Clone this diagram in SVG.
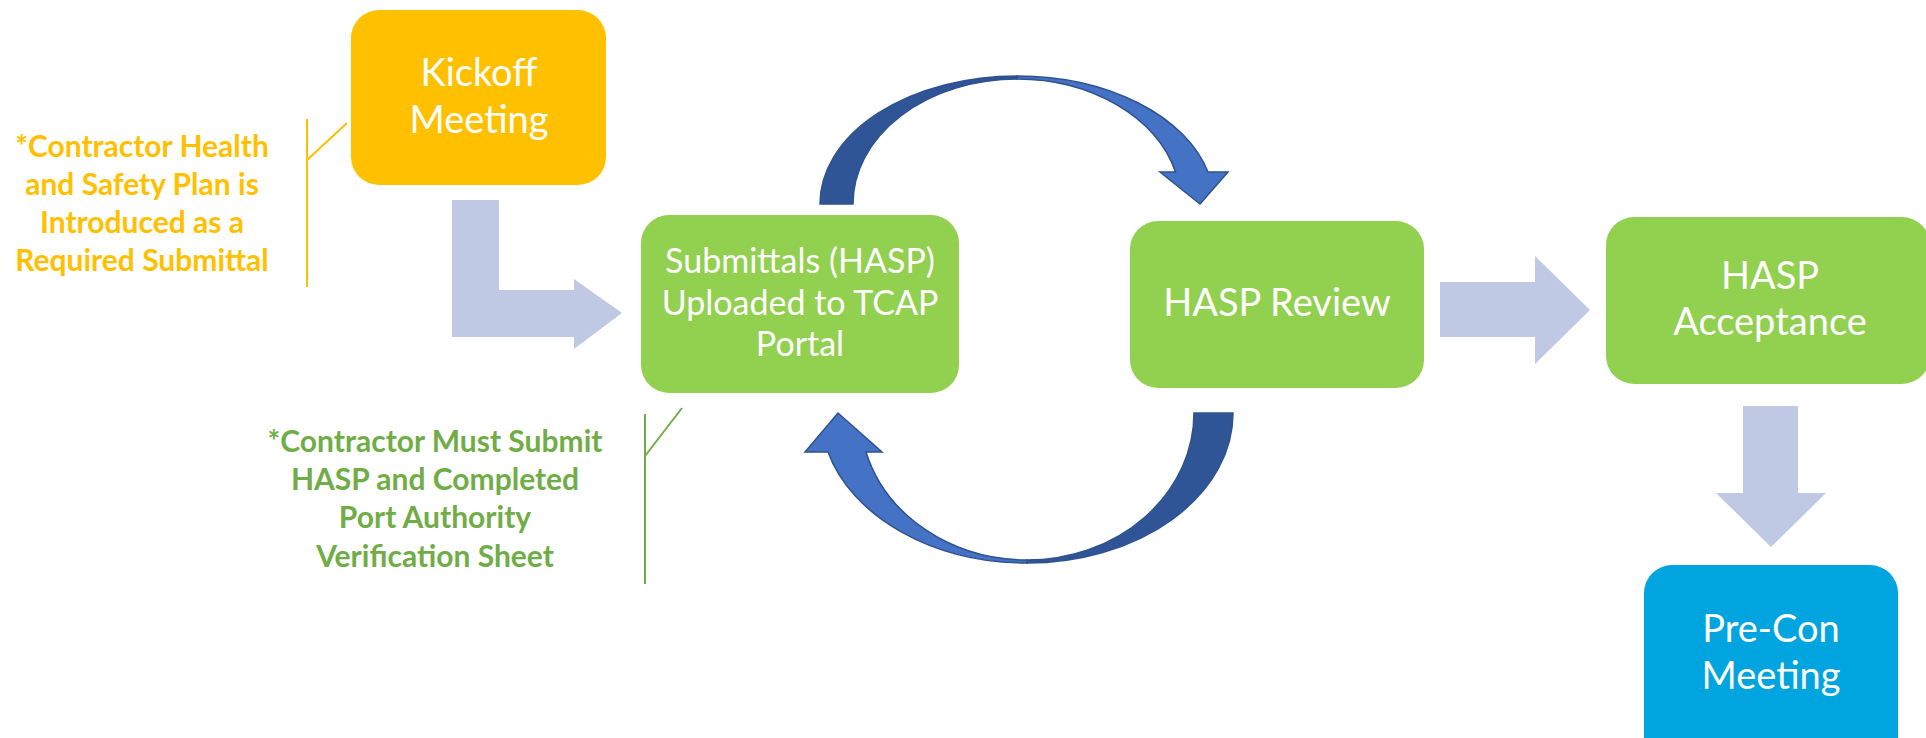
<svg xmlns="http://www.w3.org/2000/svg" width="1926" height="738" viewBox="0 0 1926 738">
<style>
.box-text{font-family:Lato,"Liberation Sans",sans-serif;fill:#ffffff;text-anchor:middle}
.note{font-family:Lato,"Liberation Sans",sans-serif;font-weight:bold;text-anchor:middle;font-size:30px}
.flat{fill:#BFC9E3}
.dark{fill:#2F5597;stroke:#2F528F;stroke-width:1.5}
.light{fill:#4472C4;stroke:#2F528F;stroke-width:1.5}
</style>
<rect width="1926" height="738" fill="#ffffff"/>
<g id="connectors">
  <path class="flat" d="M452,200 H499 V290 H574 V279 L622,313 L574,349 V337 H452 Z"/>
  <path class="flat" d="M1440,282 H1535 V256 L1590,310 L1535,364 V337 H1440 Z"/>
  <path class="flat" d="M1743,406 H1798 V493 H1826 L1771,547 L1716,493 H1743 Z"/>
  <g id="loop-top">
    <path class="dark" d="M820,204 A197,128 0 0 1 1017,76 L1017,79 A164,125 0 0 0 853,204 Z"/>
    <path class="light" d="M1017,76 A197,128 0 0 1 1208,172 L1228,172 L1200,204 L1160,172 L1175.5,172 A164,125 0 0 0 1017,79 Z"/>
  </g>
  <g id="loop-bottom">
    <path class="dark" d="M1233,413 A206,150 0 0 1 1027,563 L1027,560 A167,147 0 0 0 1194,413 Z"/>
    <path class="light" d="M1027,563 A206,150 0 0 1 828,452 L805,452 L838,413 L882,452 L866,452 A167,147 0 0 0 1027,560 Z"/>
  </g>
</g>
<g id="kickoff">
  <rect x="351" y="10" width="255" height="175" rx="28" fill="#FFC000"/>
  <text class="box-text" font-size="38" x="479" y="86">Kickoff</text>
  <text class="box-text" font-size="38" x="479" y="133">Meeting</text>
</g>
<g id="note-kickoff">
  <path d="M307,119 V287 M307,160 L347,123" stroke="#FFC000" stroke-width="2" fill="none"/>
  <text class="note" fill="#FFC000"><tspan x="142" y="157">*Contractor Health</tspan><tspan x="142" y="195">and Safety Plan is</tspan><tspan x="142" y="233">Introduced as a</tspan><tspan x="142" y="271">Required Submittal</tspan></text>
</g>
<g id="submittals">
  <rect x="641" y="215" width="318" height="178" rx="28" fill="#92D050"/>
  <text class="box-text" font-size="34" x="800" y="273">Submittals (HASP)</text>
  <text class="box-text" font-size="34" x="800" y="315">Uploaded to TCAP</text>
  <text class="box-text" font-size="34" x="800" y="356">Portal</text>
</g>
<g id="note-submittals">
  <path d="M645,414 V584 M645,456 L682,408" stroke="#70AD47" stroke-width="2" fill="none"/>
  <text class="note" fill="#70AD47"><tspan x="435" y="452">*Contractor Must Submit</tspan><tspan x="435" y="490">HASP and Completed</tspan><tspan x="435" y="528">Port Authority</tspan><tspan x="435" y="567">Verification Sheet</tspan></text>
</g>
<g id="hasp-review">
  <rect x="1130" y="221" width="294" height="167" rx="28" fill="#92D050"/>
  <text class="box-text" font-size="38" x="1277" y="316">HASP Review</text>
</g>
<g id="hasp-acceptance">
  <rect x="1606" y="217" width="324" height="167" rx="28" fill="#92D050"/>
  <text class="box-text" font-size="38" x="1770" y="289">HASP</text>
  <text class="box-text" font-size="38" x="1770" y="335">Acceptance</text>
</g>
<g id="pre-con">
  <rect x="1644" y="565" width="254" height="200" rx="28" fill="#00A5DF"/>
  <text class="box-text" font-size="38" x="1771" y="642">Pre-Con</text>
  <text class="box-text" font-size="38" x="1771" y="689">Meeting</text>
</g>
</svg>
